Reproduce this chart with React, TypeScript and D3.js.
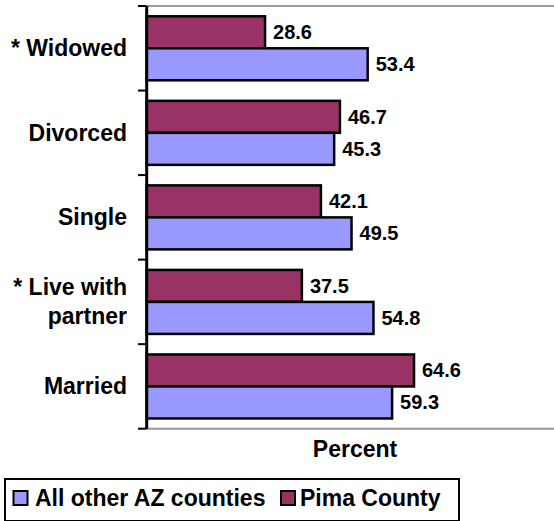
import React from "react";
import * as d3 from "d3";

const categories = ["* Widowed", "Divorced", "Single", "* Live with|partner", "Married"];
const pima = [28.6, 46.7, 42.1, 37.5, 64.6];
const other = [53.4, 45.3, 49.5, 54.8, 59.3];
const seriesNames = ["All other AZ counties", "Pima County"];
const colors = { pima: "#993366", other: "#9999FF" };

const W = 554, H = 521;
const font = "'Liberation Sans', Arial, sans-serif";

export default function App() {
  const x = d3.scaleLinear().domain([0, 100]).range([146.7, 560.5]);
  const y = d3.scaleBand().domain(categories).range([6, 428.7]).paddingInner(0).paddingOuter(0);
  const bw = y.bandwidth();
  const barH = 32;
  const off = 10.3;
  const ticks = d3.range(categories.length + 1).map((i) => 6 + i * bw);
  return (
    <svg width={W} height={H} style={{ position: "absolute", left: 0, top: 0 }} fontFamily={font} fontWeight="bold">
      <rect x={0} y={0} width={W} height={H} fill="#fff" />
      <line x1={x(0)} x2={W} y1={6} y2={6} stroke="#999" strokeWidth={2} />
      <line x1={x(0)} x2={W} y1={428.7} y2={428.7} stroke="#999" strokeWidth={2} />
      {categories.map((c, i) => {
        const y0 = y(c)!;
        return (
          <g key={c}>
            <rect x={x(0)} y={y0 + off} width={x(pima[i]) - x(0)} height={barH} fill={colors.pima} stroke="#000" strokeWidth={2.5} />
            <rect x={x(0)} y={y0 + off + barH} width={x(other[i]) - x(0)} height={barH} fill={colors.other} stroke="#000" strokeWidth={2.5} />
            <text x={x(pima[i]) + 8} y={y0 + off + barH / 2} dy="0.35em" fontSize={20}>{pima[i].toFixed(1)}</text>
            <text x={x(other[i]) + 8} y={y0 + off + barH * 1.5} dy="0.35em" fontSize={20}>{other[i].toFixed(1)}</text>
            {c.split("|").map((line, j, arr) => (
              <text key={j} x={127} y={y0 + bw / 2 + (j - (arr.length - 1) / 2) * 29} dy="0.35em" textAnchor="end" fontSize={23}>{line}</text>
            ))}
          </g>
        );
      })}
      <line x1={x(0)} x2={x(0)} y1={6} y2={428.7} stroke="#000" strokeWidth={3} />
      {ticks.map((t, i) => (
        <line key={i} x1={138} x2={x(0)} y1={t} y2={t} stroke="#000" strokeWidth={2} />
      ))}
      <text x={355} y={457} textAnchor="middle" fontSize={23}>Percent</text>
      <rect x={5} y={479} width={454} height={42} fill="none" stroke="#000" strokeWidth={2} />
      <rect x={13.5} y={491} width={14} height={14} fill={colors.other} stroke="#000" strokeWidth={2} />
      <text x={35} y={498} dy="0.35em" fontSize={23}>{seriesNames[0]}</text>
      <rect x={281} y={491} width={14} height={14} fill={colors.pima} stroke="#000" strokeWidth={2} />
      <text x={300} y={498} dy="0.35em" fontSize={23}>{seriesNames[1]}</text>
    </svg>
  );
}
